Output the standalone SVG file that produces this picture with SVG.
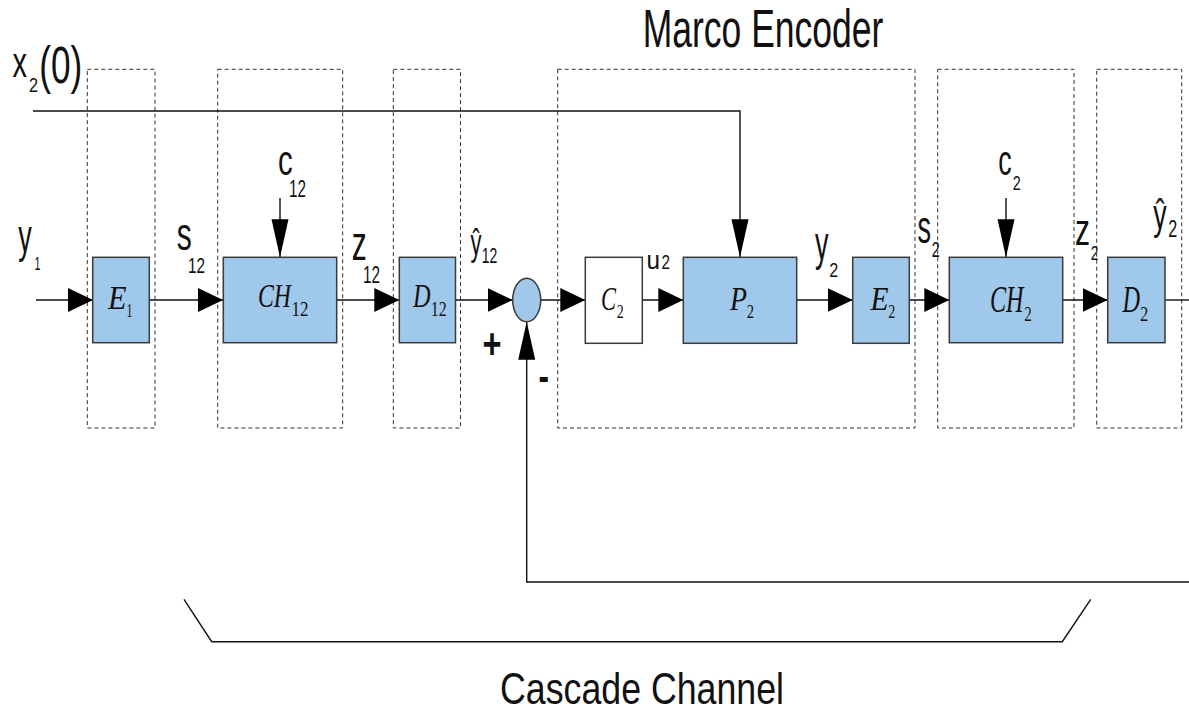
<svg xmlns="http://www.w3.org/2000/svg" width="1189" height="716" viewBox="0 0 1189 716">
<style>
.bg{fill:#ffffff}
.dash{fill:none;stroke:#333;stroke-width:1;stroke-dasharray:4,3}
.blk{fill:#9fc8ea;stroke:#3a3a3a;stroke-width:1.5}
.wblk{fill:#ffffff;stroke:#3a3a3a;stroke-width:1.5}
.ln{fill:none;stroke:#111;stroke-width:1.4}
.sans{font-family:"Liberation Sans Narrow","Liberation Sans",Arial,sans-serif;fill:#111}
.ser{font-family:"Liberation Serif","Times New Roman",serif;fill:#111}
.it{font-style:italic}
.up{font-style:normal}
</style>
<defs>
<marker id="ah" markerUnits="userSpaceOnUse" markerWidth="26" markerHeight="25" refX="25" refY="12" orient="auto">
<path d="M0,0 L25,12 L0,24 z" fill="#000"/>
</marker>
<marker id="av" markerUnits="userSpaceOnUse" markerWidth="39" markerHeight="18" refX="38" refY="8.5" orient="auto">
<path d="M0,0 L38,8.5 L0,17 z" fill="#000"/>
</marker>
</defs>
<rect class="bg" x="0" y="0" width="1189" height="716"/>

<g id="groups">
<rect class="dash" x="87.3" y="69.3" width="67.7" height="358.7"/>
<rect class="dash" x="217.7" y="69.3" width="125" height="358.7"/>
<rect class="dash" x="393.3" y="69.3" width="67.2" height="358.7"/>
<rect class="dash" x="557.7" y="69.3" width="357.3" height="358.7"/>
<rect class="dash" x="937.7" y="69.3" width="136.3" height="358.7"/>
<rect class="dash" x="1096.7" y="69.3" width="85" height="358.7"/>
</g>

<g id="connectors">
<line class="ln" x1="36" y1="300" x2="93" y2="300" marker-end="url(#ah)"/>
<line class="ln" x1="149" y1="300" x2="223" y2="300" marker-end="url(#ah)"/>
<line class="ln" x1="337" y1="300" x2="399.3" y2="300" marker-end="url(#ah)"/>
<line class="ln" x1="455.5" y1="300" x2="512.7" y2="300" marker-end="url(#ah)"/>
<line class="ln" x1="540.7" y1="300" x2="585.3" y2="300" marker-end="url(#ah)"/>
<line class="ln" x1="642.3" y1="300" x2="683.3" y2="300" marker-end="url(#ah)"/>
<line class="ln" x1="796.7" y1="300" x2="852.7" y2="300" marker-end="url(#ah)"/>
<line class="ln" x1="909.3" y1="300" x2="949.3" y2="300" marker-end="url(#ah)"/>
<line class="ln" x1="1062.7" y1="300" x2="1107.7" y2="300" marker-end="url(#ah)"/>
<line class="ln" x1="1165" y1="300" x2="1189" y2="300"/>
<path class="ln" d="M1189,582 H526.7 V321.7" marker-end="url(#av)"/>
<path class="ln" d="M33,111 H740 V257.3" marker-end="url(#av)"/>
<line class="ln" x1="280" y1="198" x2="280" y2="257.3" marker-end="url(#av)"/>
<line class="ln" x1="1006" y1="198" x2="1006" y2="257.3" marker-end="url(#av)"/>
<path class="ln" d="M184,599.3 L211.7,641.7 H1062.3 L1090.7,599.3" stroke-width="1.2"/>
</g>

<g id="E1">
<rect class="blk" x="92.7" y="257.3" width="56.6" height="85.4"/>
<text class="ser it" font-size="33"><tspan x="108" y="309.3" textLength="18.5" lengthAdjust="spacingAndGlyphs">E</tspan><tspan class="up" x="126.5" y="317.3" font-size="18.5" textLength="6" lengthAdjust="spacingAndGlyphs">1</tspan></text>
</g>
<g id="CH12">
<rect class="blk" x="223.3" y="257.3" width="113.4" height="85.4"/>
<text class="ser it" font-size="33"><tspan x="258" y="306.7" textLength="33" lengthAdjust="spacingAndGlyphs">CH</tspan><tspan class="up" x="291.5" y="315.5" font-size="22" textLength="17" lengthAdjust="spacingAndGlyphs">12</tspan></text>
</g>
<g id="D12">
<rect class="blk" x="399.3" y="257.3" width="56.2" height="85.4"/>
<text class="ser it" font-size="33"><tspan x="413" y="306.7" textLength="17.5" lengthAdjust="spacingAndGlyphs">D</tspan><tspan class="up" x="430.7" y="315.5" font-size="22" textLength="16" lengthAdjust="spacingAndGlyphs">12</tspan></text>
</g>
<g id="sum">
<ellipse class="blk" cx="526.7" cy="300" rx="14" ry="21.7"/>
<text class="sans" x="482.5" y="357.5" font-size="42" font-weight="bold" textLength="19" lengthAdjust="spacingAndGlyphs">+</text>
<text class="sans" x="538.5" y="391" font-size="42" font-weight="bold" textLength="10.5" lengthAdjust="spacingAndGlyphs">-</text>
</g>
<g id="C2">
<rect class="wblk" x="585.3" y="257.3" width="57" height="86"/>
<text class="ser it" font-size="33"><tspan x="601" y="310" textLength="15" lengthAdjust="spacingAndGlyphs">C</tspan><tspan class="up" x="616.7" y="317.5" font-size="18.5" textLength="7" lengthAdjust="spacingAndGlyphs">2</tspan></text>
</g>
<g id="P2">
<rect class="blk" x="683.3" y="257.3" width="113.4" height="86"/>
<text class="ser it" font-size="33"><tspan x="730" y="310" textLength="17" lengthAdjust="spacingAndGlyphs">P</tspan><tspan class="up" x="746.7" y="317.5" font-size="18.5" textLength="7.3" lengthAdjust="spacingAndGlyphs">2</tspan></text>
</g>
<g id="E2">
<rect class="blk" x="852.7" y="257.3" width="56.6" height="86"/>
<text class="ser it" font-size="33"><tspan x="870.5" y="310" textLength="18" lengthAdjust="spacingAndGlyphs">E</tspan><tspan class="up" x="888.3" y="317.5" font-size="18.5" textLength="7" lengthAdjust="spacingAndGlyphs">2</tspan></text>
</g>
<g id="CH2">
<rect class="blk" x="949.3" y="257.3" width="113.4" height="85.4"/>
<text class="ser it" font-size="38"><tspan x="990" y="311.7" textLength="33.5" lengthAdjust="spacingAndGlyphs">CH</tspan><tspan class="up" x="1024.3" y="321" font-size="21" textLength="7.5" lengthAdjust="spacingAndGlyphs">2</tspan></text>
</g>
<g id="D2">
<rect class="blk" x="1107.7" y="257.3" width="57.3" height="85.4"/>
<text class="ser it" font-size="38"><tspan x="1122.5" y="311.7" textLength="17.5" lengthAdjust="spacingAndGlyphs">D</tspan><tspan class="up" x="1140" y="321" font-size="21" textLength="8.3" lengthAdjust="spacingAndGlyphs">2</tspan></text>
</g>

<g id="labels">
<text class="sans" x="642.7" y="46.7" font-size="53" textLength="240.6" lengthAdjust="spacingAndGlyphs">Marco Encoder</text>
<text class="sans" x="500" y="703.5" font-size="44" textLength="284" lengthAdjust="spacingAndGlyphs">Cascade Channel</text>

<text class="sans" font-size="43"><tspan x="12.5" y="77" textLength="14.5" lengthAdjust="spacingAndGlyphs">x</tspan><tspan x="29" y="91.7" font-size="20" textLength="9" lengthAdjust="spacingAndGlyphs">2</tspan><tspan x="39.3" y="83" font-size="52" textLength="43" lengthAdjust="spacingAndGlyphs">(0)</tspan></text>

<text class="sans" font-size="47"><tspan x="18.3" y="252" textLength="13.5" lengthAdjust="spacingAndGlyphs">y</tspan><tspan x="34.5" y="270" font-size="19" textLength="6" lengthAdjust="spacingAndGlyphs">1</tspan></text>

<text class="sans" font-size="47"><tspan x="176.7" y="250" textLength="15" lengthAdjust="spacingAndGlyphs">s</tspan><tspan x="188" y="272.7" font-size="21.5" textLength="17" lengthAdjust="spacingAndGlyphs">12</tspan></text>

<text class="sans" font-size="43"><tspan x="278" y="175" textLength="14.7" lengthAdjust="spacingAndGlyphs">c</tspan><tspan x="289" y="196.7" font-size="23" textLength="17" lengthAdjust="spacingAndGlyphs">12</tspan></text>

<text class="sans" font-size="48"><tspan x="351.7" y="260" textLength="15" lengthAdjust="spacingAndGlyphs">z</tspan><tspan x="363" y="282.7" font-size="23" textLength="17" lengthAdjust="spacingAndGlyphs">12</tspan></text>

<text class="sans" font-size="37"><tspan x="470.5" y="255" textLength="11" lengthAdjust="spacingAndGlyphs">ŷ</tspan><tspan x="481.7" y="263.3" font-size="22" textLength="15.6" lengthAdjust="spacingAndGlyphs">12</tspan></text>

<text class="sans" font-size="26"><tspan x="646.5" y="269.3" textLength="13.5" lengthAdjust="spacingAndGlyphs">u</tspan><tspan x="661.5" y="269.3" font-size="20.5" textLength="8.5" lengthAdjust="spacingAndGlyphs">2</tspan></text>

<text class="sans" font-size="49"><tspan x="815" y="260" textLength="13.5" lengthAdjust="spacingAndGlyphs">y</tspan><tspan x="829.3" y="276.7" font-size="20" textLength="9" lengthAdjust="spacingAndGlyphs">2</tspan></text>

<text class="sans" font-size="46"><tspan x="917.5" y="242.5" textLength="13.5" lengthAdjust="spacingAndGlyphs">s</tspan><tspan x="931.7" y="257.3" font-size="22" textLength="8" lengthAdjust="spacingAndGlyphs">2</tspan></text>

<text class="sans" font-size="43"><tspan x="998.3" y="175" textLength="13.4" lengthAdjust="spacingAndGlyphs">c</tspan><tspan x="1012.7" y="190" font-size="20" textLength="8" lengthAdjust="spacingAndGlyphs">2</tspan></text>

<text class="sans" font-size="45"><tspan x="1075" y="245" textLength="15" lengthAdjust="spacingAndGlyphs">z</tspan><tspan x="1090.7" y="260" font-size="21" textLength="7.6" lengthAdjust="spacingAndGlyphs">2</tspan></text>

<text class="sans" font-size="43"><tspan x="1153.3" y="228.5" textLength="13.4" lengthAdjust="spacingAndGlyphs">ŷ</tspan><tspan x="1168.3" y="236.7" font-size="23" textLength="9" lengthAdjust="spacingAndGlyphs">2</tspan></text>
</g>
</svg>
